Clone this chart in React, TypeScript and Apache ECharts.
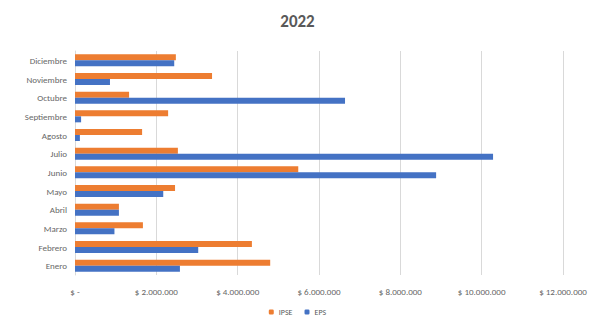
import React, { useEffect, useRef } from "react";
import * as echarts from "echarts";

const months = ["Enero", "Febrero", "Marzo", "Abril", "Mayo", "Junio", "Julio", "Agosto", "Septiembre", "Octubre", "Noviembre", "Diciembre"];
const ipse = [4800000, 4350000, 1670000, 1080000, 2460000, 5490000, 2530000, 1650000, 2290000, 1330000, 3370000, 2480000];
const eps = [2580000, 3030000, 970000, 1080000, 2170000, 8880000, 10280000, 120000, 150000, 6640000, 860000, 2440000];

const fmt = (v: number) => {
  if (v === 0) return "$ -";
  return "$ " + Math.round(v).toString().replace(/\B(?=(\d{3})+(?!\d))/g, ".");
};

export default function App() {
  const ref = useRef<HTMLDivElement>(null);
  useEffect(() => {
    const chart = echarts.init(ref.current!, undefined, { renderer: "svg" });
    const font = "Carlito, 'Open Sans', sans-serif";
    chart.setOption({
      animation: false,
      title: {
        text: "2022",
        left: "center",
        top: 8,
        textStyle: { fontSize: 17, fontWeight: "bold", color: "#595959", fontFamily: font },
      },
      legend: {
        data: ["IPSE", "EPS"],
        bottom: 2,
        left: "center",
        itemWidth: 5,
        itemHeight: 5,
        itemGap: 12,
        textStyle: { fontSize: 8, color: "#595959", fontFamily: font },
      },
      grid: { left: 75, right: 32, top: 51, bottom: 48 },
      xAxis: {
        type: "value",
        min: 0,
        max: 12000000,
        interval: 2000000,
        axisLabel: { formatter: fmt, fontSize: 9, color: "#666666", fontFamily: font, margin: 12 },
        splitLine: { lineStyle: { color: "#d9d9d9" } },
        axisLine: { show: false },
        axisTick: { show: false },
      },
      yAxis: {
        type: "category",
        data: months,
        axisLabel: { fontSize: 9, color: "#666666", fontFamily: font, margin: 8 },
        axisLine: { lineStyle: { color: "#d9d9d9" } },
        axisTick: { show: false },
      },
      series: [
        { name: "IPSE", type: "bar", data: ipse, barWidth: 6, barGap: "0%", itemStyle: { color: "#ED7D31" } },
        { name: "EPS", type: "bar", data: eps, barWidth: 6, barGap: "0%", itemStyle: { color: "#4472C4" } },
      ],
    });
    return () => chart.dispose();
  }, []);
  return <div ref={ref} style={{ width: 595, height: 323, position: "absolute", left: 0, top: 0 }} />;
}
